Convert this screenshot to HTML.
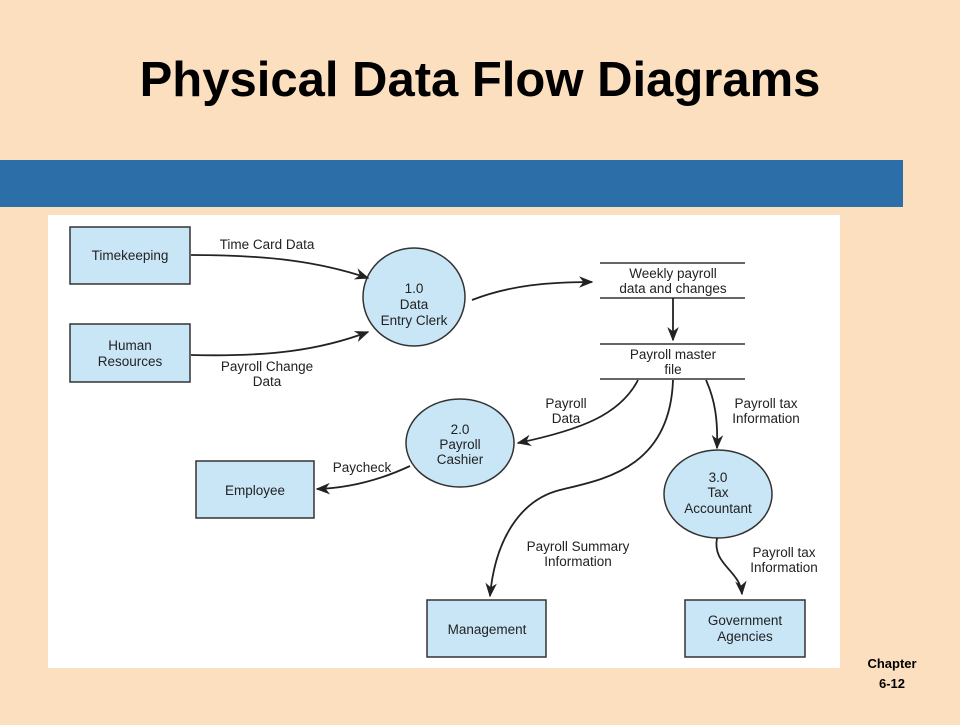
<!DOCTYPE html>
<html><head><style>
body{margin:0;width:960px;height:720px;background:#FCDFBF;overflow:hidden;font-family:"Liberation Sans",sans-serif}
</style></head><body>
<svg width="960" height="720" xmlns="http://www.w3.org/2000/svg" font-family="Liberation Sans, sans-serif">
<defs><marker id="a" viewBox="0 0 10 10" refX="9" refY="5" markerWidth="8" markerHeight="8" orient="auto"><path d="M0,1 L10,5 L0,9 L3,5 z" fill="#222"/></marker></defs>
<text x="480" y="96" text-anchor="middle" font-size="49" font-weight="bold" fill="#000">Physical Data Flow Diagrams</text>
<rect x="0" y="160" width="903" height="47" fill="#2C6EA8"/>
<rect x="48" y="215" width="792" height="453" fill="#fff"/>
<g fill="#C9E6F7" stroke="#333" stroke-width="1.5">
<rect x="70" y="227" width="120" height="57"/>
<rect x="70" y="324" width="120" height="58"/>
<rect x="196" y="461" width="118" height="57"/>
<rect x="427" y="600" width="119" height="57"/>
<rect x="685" y="600" width="120" height="57"/>
<ellipse cx="414" cy="297" rx="51" ry="49"/>
<ellipse cx="460" cy="443" rx="54" ry="44"/>
<ellipse cx="718" cy="494" rx="54" ry="44"/>
</g>
<g stroke="#333" stroke-width="1.5">
<line x1="600" y1="263" x2="745" y2="263"/><line x1="600" y1="298" x2="745" y2="298"/>
<line x1="600" y1="344" x2="745" y2="344"/><line x1="600" y1="379" x2="745" y2="379"/>
</g>
<g fill="none" stroke="#222" stroke-width="1.8" marker-end="url(#a)">
<path d="M191,255 C270,255 320,262 368,278"/>
<path d="M191,355 C270,357 320,350 368,332"/>
<path d="M472,300 C510,285 550,282 592,282"/>
<path d="M673,298 L673,340"/>
<path d="M638,380 C620,415 580,430 518,443"/>
<path d="M673,380 C670,470 600,480 560,490 C520,500 495,540 490,596"/>
<path d="M706,380 C715,400 718,420 717,448"/>
<path d="M717,538 C712,565 740,570 742,594"/>
<path d="M410,466 C380,480 350,488 317,489"/>
</g>
<g font-size="13.5" fill="#222" text-anchor="middle">
<text x="130" y="260">Timekeeping</text>
<text x="130" y="350">Human</text><text x="130" y="366">Resources</text>
<text x="255" y="495">Employee</text>
<text x="487" y="634">Management</text>
<text x="745" y="625">Government</text><text x="745" y="641">Agencies</text>
<text x="414" y="293">1.0</text><text x="414" y="309">Data</text><text x="414" y="325">Entry Clerk</text>
<text x="460" y="434">2.0</text><text x="460" y="449">Payroll</text><text x="460" y="464">Cashier</text>
<text x="718" y="482">3.0</text><text x="718" y="497">Tax</text><text x="718" y="513">Accountant</text>
<text x="673" y="278">Weekly payroll</text><text x="673" y="293">data and changes</text>
<text x="673" y="359">Payroll master</text><text x="673" y="374">file</text>
<text x="267" y="249">Time Card Data</text>
<text x="267" y="371">Payroll Change</text><text x="267" y="386">Data</text>
<text x="566" y="408">Payroll</text><text x="566" y="423">Data</text>
<text x="766" y="408">Payroll tax</text><text x="766" y="423">Information</text>
<text x="362" y="472">Paycheck</text>
<text x="578" y="551">Payroll Summary</text><text x="578" y="566">Information</text>
<text x="784" y="557">Payroll tax</text><text x="784" y="572">Information</text>
</g>
<g font-size="13" font-weight="bold" fill="#000" text-anchor="middle">
<text x="892" y="668">Chapter</text><text x="892" y="688">6-12</text>
</g>
</svg>
</body></html>
